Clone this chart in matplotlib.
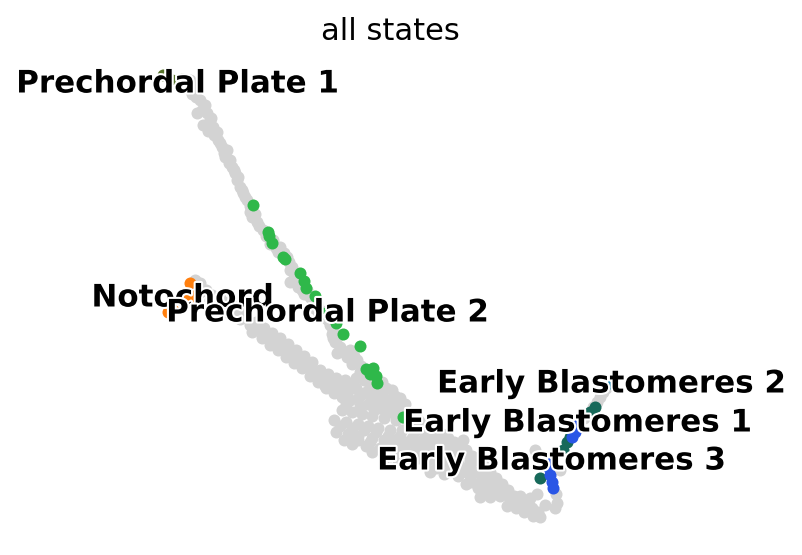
"""
plot.py - embedding scatter with terminal states coloured ("all states").
Coordinates are read off the reference picture (embedding units, y down).
"""

import numpy as np
import matplotlib
matplotlib.use("Agg")
import matplotlib.pyplot as plt
import matplotlib.patheffects as pe


# ---------------------------------------------------------------------------
# Data
# ---------------------------------------------------------------------------
# background cells (grey)
upper_branch = [
    (178, 80), (190, 80), (193, 88), (192, 94), (200, 100), (205, 105), (197, 113),
    (207, 113), (210, 120), (203, 125), (213, 127), (208, 131), (217, 132), (218, 140),
    (222, 147), (227, 150), (225, 157), (230, 160), (232, 167), (235, 173), (237, 180),
    (240, 187), (243, 193), (247, 200), (250, 206), (250, 212), (255, 214), (257, 222),
    (263, 230), (266, 236), (273, 240), (276, 248), (280, 247), (287, 257), (289, 262),
    (292, 267), (296, 274), (290, 282), (298, 287), (307, 290), (304, 294), (310, 297),
    (317, 303), (314, 308), (320, 310), (323, 315), (328, 320), (330, 325), (333, 330),
    (337, 337), (333, 338), (340, 347), (337, 353), (347, 357), (350, 350), (357, 360),
    (352, 364), (360, 372), (356, 378), (364, 380), (370, 386), (366, 392), (376, 390),
    (382, 396), (378, 402), (388, 400), (394, 406), (390, 412), (400, 410), (406, 414),
    (412, 418), (418, 420), (424, 424), (430, 428), (436, 430), (442, 434), (448, 438),
    (454, 442), (460, 446), (466, 450), (472, 456), (478, 460), (484, 466), (490, 472),
    (496, 478), (502, 484), (508, 490), (514, 496), (520, 500), (526, 504), (532, 508),
    (538, 512), (540, 517),
    (196, 97), (202, 110), (211, 118), (214, 135), (220, 143), (224, 153), (229, 163),
    (234, 170), (238, 177), (242, 190), (245, 197), (252, 217), (259, 226), (268, 233),
    (270, 244), (278, 252), (284, 253), (290, 270), (294, 278), (300, 284), (302, 290),
    (312, 300), (318, 312), (326, 318), (332, 334), (335, 342), (344, 352), (354, 356),
    (361, 366), (368, 381), (372, 392), (386, 404), (396, 412), (404, 418), (416, 424),
    (422, 428), (434, 434), (446, 442), (458, 450), (470, 460), (482, 470), (494, 482),
    (506, 494), (518, 504), (528, 510),
]
notochord_branch = [
    (195, 280), (200, 283), (206, 290), (212, 295), (220, 298), (228, 302), (236, 306),
    (244, 312), (230, 314), (240, 319), (250, 325), (252, 332), (260, 330), (262, 338),
    (268, 336), (270, 345), (276, 342), (278, 350), (284, 348), (286, 357), (292, 353),
    (294, 363), (300, 358), (302, 368), (308, 366), (310, 376), (316, 372), (318, 382),
    (324, 378), (326, 388), (332, 382), (334, 393), (340, 387), (342, 397), (348, 391),
    (200, 292), (210, 300), (218, 305), (226, 308), (234, 312), (246, 318), (256, 322),
    (264, 328), (272, 333), (280, 338), (288, 344), (296, 350), (304, 356), (312, 362),
    (320, 370), (328, 374), (336, 378), (344, 385), (350, 384),
]
blob = [
    (320, 380), (330, 378), (345, 380), (372, 376), (382, 382), (392, 390),
    (350, 400), (358, 398), (368, 404), (380, 408), (400, 398), (405, 404),
    (342, 410), (352, 412), (362, 414), (372, 416), (384, 418), (396, 420), (410, 424),
    (334, 420), (346, 422), (358, 424), (368, 426), (378, 428), (390, 430), (402, 430),
    (414, 432), (426, 434), (336, 432), (348, 434), (358, 436), (372, 438), (384, 440),
    (396, 440), (408, 442), (420, 442), (432, 444), (444, 446), (352, 444), (366, 446),
    (380, 448), (394, 450), (406, 452), (418, 452), (430, 454), (442, 456), (454, 456),
    (463, 440), (384, 458), (398, 460), (412, 462), (426, 462), (440, 464), (452, 466),
    (464, 468), (430, 472), (444, 474), (458, 476), (470, 476), (482, 480), (466, 484),
    (478, 488), (490, 490), (480, 497), (490, 497), (500, 496), (507, 506), (516, 508),
    (524, 512), (533, 516), (530, 498), (537, 494), (545, 505), (535, 450),
    (325, 386), (338, 384), (356, 388), (362, 394), (372, 398), (386, 388), (395, 396),
    (346, 404), (360, 406), (374, 410), (388, 412), (340, 426), (352, 428), (364, 430),
    (376, 432), (388, 436), (400, 436), (412, 438), (424, 438), (436, 440), (448, 450),
    (460, 454), (344, 440), (358, 440), (370, 442), (392, 446), (404, 446), (416, 448),
    (428, 448), (440, 450), (372, 452), (390, 456), (404, 458), (418, 458), (432, 458),
    (446, 460), (458, 462), (470, 466), (436, 468), (450, 470), (462, 472), (476, 472),
    (488, 476), (472, 482), (484, 484), (496, 486), (486, 492), (498, 492), (510, 500),
    (520, 496), (528, 502),
]
right_branch = [
    (606, 388), (603, 392), (600, 397), (597, 402), (593, 407), (584, 418), (580, 420),
    (556, 494), (557, 503), (555, 508), (560, 470),
]

# terminal states
state_names = [
    "Prechordal Plate 1", "Notochord", "Prechordal Plate 2",
    "Early Blastomeres 2", "Early Blastomeres 1", "Early Blastomeres 3",
]
state_colors = ["#56732b", "#ff7f0e", "#2fb84a", "#2b8cb8", "#17695a", "#2a56e6"]
state_cells = [
    [(163, 75), (172, 80), (182, 79)],
    [(190, 283), (188, 297), (193, 296), (182, 300), (176, 305), (168, 312)],
    [(253, 205), (268, 232), (269, 236), (272, 243), (283, 257), (285, 259),
     (300, 273), (304, 281), (306, 288), (315, 296), (322, 313), (336, 323),
     (343, 334), (360, 346), (366, 369), (373, 368), (370, 374), (376, 376),
     (377, 383), (403, 417)],
    [(611, 383)],
    [(595, 407), (590, 412), (570, 437), (567, 442), (563, 450), (540, 478)],
    [(578, 425), (575, 432), (572, 437), (550, 460), (549, 468), (550, 475),
     (552, 482), (553, 488)],
]
# label positions (state medians in the plot)
label_pos = [(178, 84), (183, 298), (328, 313), (612, 384), (578, 423), (552, 461)]

TITLE = "all states"


# ---------------------------------------------------------------------------
# Plot
# ---------------------------------------------------------------------------
def main():
    fig = plt.figure(figsize=(8.03, 5.55), dpi=100)
    ax = fig.add_axes([0, 0, 1, 1])
    ax.set_xlim(0, 803)
    ax.set_ylim(555, 0)
    ax.axis("off")

    grey = np.array(upper_branch + notochord_branch + blob + right_branch)
    ax.scatter(grey[:, 0], grey[:, 1], s=75, c="#d3d3d3", linewidths=0)

    for cells, color in zip(state_cells, state_colors):
        pts = np.array(cells)
        ax.scatter(pts[:, 0], pts[:, 1], s=75, c=color, linewidths=0)

    outline = [pe.withStroke(linewidth=3, foreground="white")]
    for name, (x, y) in zip(state_names, label_pos):
        ax.text(x, y, name, ha="center", va="center", fontsize=22.3,
                fontweight="bold", path_effects=outline)

    ax.text(390, 31, TITLE, ha="center", va="center", fontsize=22)

    fig.savefig("out.png", dpi=100)
    plt.close(fig)


if __name__ == "__main__":
    main()
